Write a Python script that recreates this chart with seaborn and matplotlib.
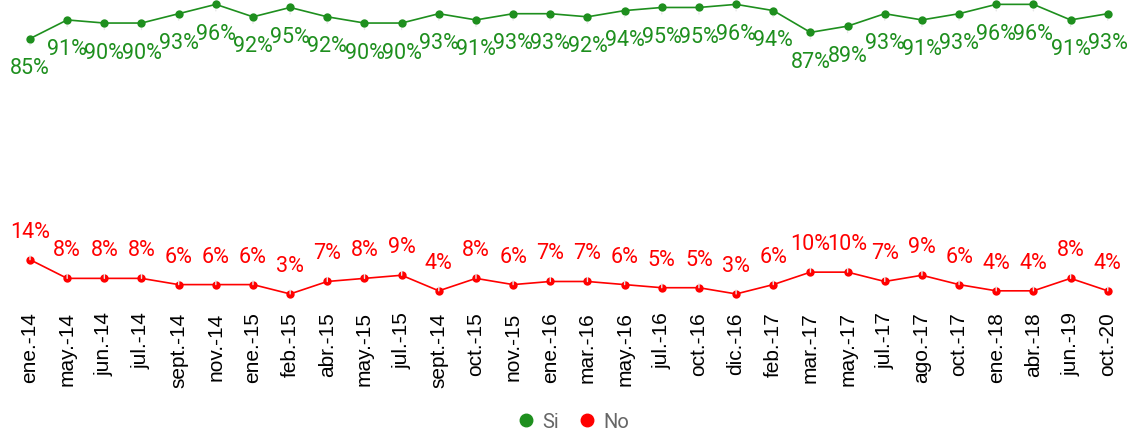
import numpy as np
import pandas as pd
import matplotlib
matplotlib.use('Agg')
import matplotlib.pyplot as plt
from matplotlib.lines import Line2D
import seaborn as sns

fechas = ['ene.-14', 'may.-14', 'jun.-14', 'jul.-14', 'sept.-14', 'nov.-14', 'ene.-15',
          'feb.-15', 'abr.-15', 'may.-15', 'jul.-15', 'sept.-14', 'oct.-15', 'nov.-15',
          'ene.-16', 'mar.-16', 'may.-16', 'jul.-16', 'oct.-16', 'dic.-16', 'feb.-17',
          'mar.-17', 'may.-17', 'jul.-17', 'ago.-17', 'oct.-17', 'ene.-18', 'abr.-18',
          'jun.-19', 'oct.-20']
si = [85, 91, 90, 90, 93, 96, 92, 95, 92, 90, 90, 93, 91, 93, 93, 92, 94, 95, 95, 96,
      94, 87, 89, 93, 91, 93, 96, 96, 91, 93]
no = [14, 8, 8, 8, 6, 6, 6, 3, 7, 8, 9, 4, 8, 6, 7, 7, 6, 5, 5, 3, 6, 10, 10, 7, 9, 6,
      4, 4, 8, 4]

VERDE = '#1e8f1e'
ROJO = '#ff0000'

idx = np.arange(len(fechas))
df = pd.DataFrame({
    'idx': np.concatenate([idx, idx]),
    'valor': si + no,
    'serie': ['Si'] * len(si) + ['No'] * len(no),
})

sns.set_style('white')
plt.rcParams['font.family'] = ['Roboto', 'DejaVu Sans']

fig = plt.figure(figsize=(11.43, 4.36), dpi=100)
ax = fig.add_axes([0.01, 0.3044, 0.9754, 0.6956])

sns.lineplot(data=df, x='idx', y='valor', hue='serie', palette={'Si': VERDE, 'No': ROJO},
             marker='o', markersize=6, markeredgewidth=0, linewidth=1.2, legend=False,
             ax=ax, clip_on=False)

# etiquetas con líneas guía
for i in idx:
    ax.annotate(f'{si[i]}%', xy=(i, si[i]), xytext=(0, -21.6), textcoords='offset points',
                ha='center', va='center', color=VERDE, fontsize=15.5,
                arrowprops=dict(arrowstyle='-', color='#e6e6e6', lw=1, shrinkA=7, shrinkB=4))
    ax.annotate(f'{no[i]}%', xy=(i, no[i]), xytext=(0, 19.8), textcoords='offset points',
                ha='center', va='center', color=ROJO, fontsize=15.5,
                arrowprops=dict(arrowstyle='-', color='#e6e6e6', lw=1, shrinkA=7, shrinkB=4))

ax.set_xlim(-0.5, len(fechas) - 0.5)
ax.set_ylim(0, 97.4)
ax.set_xticks(idx)
ax.set_xticklabels(fechas, rotation=90, fontsize=15, family='Liberation Sans', color='black')
ax.tick_params(axis='x', length=0, pad=6.5)
ax.set_yticks([])
ax.set_xlabel('')
ax.set_ylabel('')
sns.despine(ax=ax, left=True, bottom=True)

handles = [Line2D([], [], marker='o', linestyle='', color=VERDE, markersize=9),
           Line2D([], [], marker='o', linestyle='', color=ROJO, markersize=9)]
leg = fig.legend(handles, ['Si', 'No'], loc='center', bbox_to_anchor=(0.501, 0.032), ncol=2,
                 frameon=False, handletextpad=0.3, columnspacing=0.9, handlelength=1.0,
                 fontsize=14.5)
for t in leg.get_texts():
    t.set_color('#666666')

fig.savefig('out.png', dpi=100)
